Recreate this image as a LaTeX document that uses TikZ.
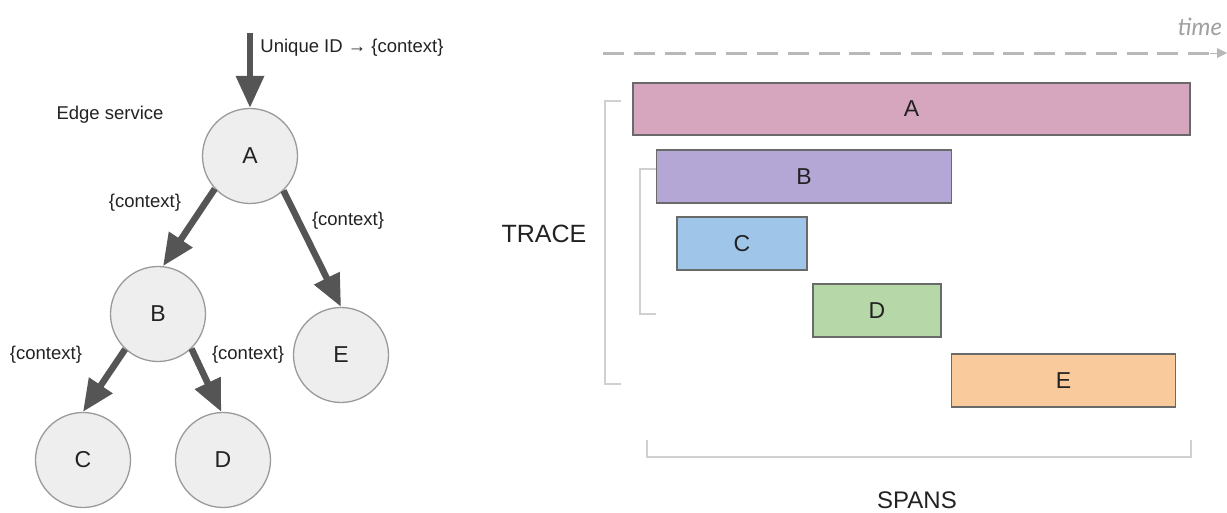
\documentclass[tikz,border=0pt]{standalone}
\usepackage{fontspec}
\setmainfont{Liberation Sans}
\newfontfamily\timefont{Lato}
\usetikzlibrary{arrows.meta}
\definecolor{arrowgray}{HTML}{555555}
\definecolor{circfill}{HTML}{EEEEEE}
\definecolor{circline}{HTML}{9A9A9A}
\definecolor{barline}{HTML}{6A6A6A}
\definecolor{bracketgray}{HTML}{D0D0D0}
\definecolor{axisgray}{HTML}{B8B8B8}
\definecolor{timegray}{HTML}{A0A0A0}
\definecolor{txt}{HTML}{222222}
\definecolor{spanA}{HTML}{D5A6BD}
\definecolor{spanB}{HTML}{B4A7D6}
\definecolor{spanC}{HTML}{9FC5E8}
\definecolor{spanD}{HTML}{B6D7A8}
\definecolor{spanE}{HTML}{F9CB9C}
\tikzset{
  svc/.style={circle, draw=circline, line width=1.3pt, fill=circfill,
    minimum size=95pt, inner sep=0pt, text=txt, font=\fontsize{23}{23}\selectfont},
  call/.style={draw=arrowgray, line width=6.5pt,
    -{Triangle[length=32pt,width=27pt]}},
  lbl/.style={text=txt, inner sep=0pt, font=\fontsize{18.5}{18.5}\selectfont},
  bigtxt/.style={text=txt, inner sep=0pt},
  spanbar/.style={draw=barline, line width=1.3pt, inner sep=0pt,
    text=txt, font=\fontsize{23}{23}\selectfont},
  brk/.style={draw=bracketgray, line width=1.8pt},
}
\begin{document}
\begin{tikzpicture}[x=1pt,y=-1pt]
\useasboundingbox (0,0) rectangle (1227,512);

% ---- call tree ----
\node[svc] (A) at (250,156) {A};
\node[svc] (B) at (158,314) {B};
\node[svc] (E) at (341,355) {E};
\node[svc] (C) at (83,460) {C};
\node[svc] (D) at (223,460) {D};

\coordinate (entry) at (250,33);
\draw[call] (entry) -- (A.north);
\draw[call] (A.223) -- (B.84);
\draw[call] (A.314) -- (E.90);
\draw[call] (B.227) -- (C.90);
\draw[call] (B.314) -- (D.92);

\node[lbl] (uid) at (352,48) {Unique ID → \{context\}};
\node[lbl] (edge) at (110,115) {Edge service};
\node[lbl] (cAB) at (145,203) {\{context\}};
\node[lbl] (cAE) at (348,221) {\{context\}};
\node[lbl] (cBC) at (46,355) {\{context\}};
\node[lbl] (cBD) at (248,355) {\{context\}};

% ---- time axis ----
\node[inner sep=0pt, text=timegray, font=\timefont\itshape\fontsize{24}{24}\selectfont]
  (time) at (1200,27) {time};
\coordinate (t0) at (603,53);
\coordinate (tend) at (1210,53);
\coordinate (t1) at (1227,53);
\draw[axisgray, line width=3pt, dash pattern=on 21pt off 9.8pt] (t0) -- (tend);
\draw[axisgray, line width=1pt, -{Triangle[length=10pt,width=10pt]}] (tend) -- (t1);

% ---- spans ----
\node[spanbar, fill=spanA, minimum width=557pt, minimum height=52pt] (sA) at (911.5,109) {A};
\node[spanbar, fill=spanB, minimum width=295pt, minimum height=53pt] (sB) at (804,176.5) {B};
\node[spanbar, fill=spanC, minimum width=130pt, minimum height=53pt] (sC) at (742,243.5) {C};
\node[spanbar, fill=spanD, minimum width=128pt, minimum height=53pt] (sD) at (877,310.5) {D};
\node[spanbar, fill=spanE, minimum width=224pt, minimum height=53pt] (sE) at (1063.5,380.5) {E};

% ---- brackets ----
\draw[brk] (621,101) -- (605,101) -- (605,384) -- (621,384);
\draw[brk] (656,169) -- (640,169) -- (640,314) -- (656,314);
\draw[brk] (647,440) -- (647,457) -- (1191,457) -- (1191,440);

\node[bigtxt, font=\fontsize{25}{25}\selectfont] (trace) at (544,234) {TRACE};
\node[bigtxt, font=\fontsize{24}{24}\selectfont] (spans) at (917,500) {SPANS};
\end{tikzpicture}
\end{document}
